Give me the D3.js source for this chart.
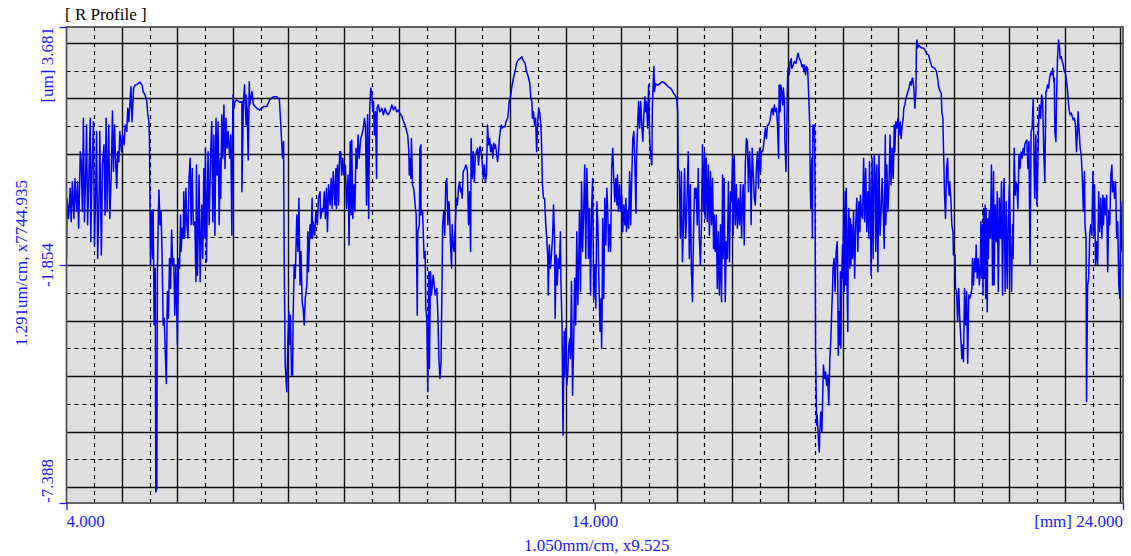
<!DOCTYPE html>
<html><head><meta charset="utf-8">
<script src="https://cdn.jsdelivr.net/npm/d3@7"></script>
<style>body{margin:0;background:#fff;} svg{display:block;}</style>
</head><body>
<svg id="chart" width="1131" height="556"></svg>
<script>
// ---------- chart values ----------
const chartTitle = "[ R Profile ]";
const xDomain = [4.0, 24.0];          // mm
const yDomain = [-7.388, 3.681];      // um
const xTickValues = [4.0, 14.0, 24.0];
const xTickLabels = ["4.000", "14.000", "[mm] 24.000"];
const yTickValues = [3.681, -1.854, -7.388];
const yTickLabels = ["[um] 3.681", "-1.854", "-7.388"];
const xAxisTitle = "1.050mm/cm, x9.525";
const yAxisTitle = "1.291um/cm, x7744.935";
const xMajorStep = 1.050;   // mm per major grid cell
const yMajorStep = 1.291;   // um per major grid cell
const yCenter = -1.854;

// profile [mm, um]
const profileSeg1 = [[4.00,-1.70],[4.01,-0.30],[4.04,-0.77],[4.07,-0.07],[4.09,-0.85],[4.11,0.08],[4.14,-0.77],[4.16,0.16],[4.19,-0.61],[4.21,0.08],[4.23,-1.00],[4.25,0.08],[4.26,0.78],[4.28,0.55],[4.30,-0.61],[4.32,1.56],[4.34,-0.85],[4.36,0.08],[4.38,1.40],[4.40,-0.92],[4.42,0.01],[4.45,1.56],[4.46,-1.31],[4.48,0.16],[4.51,1.48],[4.53,-1.39],[4.55,-0.30],[4.57,1.25],[4.59,-1.70],[4.62,-0.07],[4.63,1.25],[4.66,-1.62],[4.68,0.47],[4.71,0.94],[4.73,-0.69],[4.75,1.56],[4.77,-0.61],[4.80,1.40],[4.82,-0.77],[4.85,0.39],[4.87,1.73],[4.89,0.32],[4.91,1.40],[4.92,0.94],[4.95,-0.07],[4.97,0.78],[4.99,0.55],[5.01,1.25],[5.04,0.78],[5.06,1.17],[5.09,0.94],[5.11,1.40],[5.14,1.25],[5.16,1.79],[5.18,1.48],[5.20,1.87],[5.22,2.30],[5.24,1.48],[5.27,2.26],[5.30,2.33],[5.34,2.35],[5.39,2.40],[5.43,2.33],[5.45,2.18],[5.49,2.10],[5.52,1.95],[5.54,1.64],[5.56,1.48],[5.57,1.09],[5.59,-1.85],[5.61,-0.61],[5.63,-1.70],[5.64,-0.57],[5.66,-3.25],[5.68,-1.93],[5.69,-7.13],[5.71,-7.05],[5.72,-2.09],[5.74,-0.61],[5.75,-0.11],[5.77,-0.92],[5.79,-0.61],[5.81,-1.70],[5.83,-3.25],[5.85,-3.09],[5.87,-3.87],[5.89,-4.61],[5.91,-2.47],[5.93,-3.09],[5.95,-1.70],[5.97,-2.40],[5.99,-1.04],[6.01,-1.85],[6.03,-1.70],[6.05,-3.02],[6.07,-1.85],[6.09,-3.09],[6.10,-3.71],[6.12,-1.70],[6.14,-1.93],[6.16,-0.69],[6.17,-1.54],[6.19,-1.00],[6.21,-1.23],[6.22,-0.15],[6.24,-1.23],[6.26,-0.07],[6.28,-0.92],[6.30,-1.23],[6.32,0.16],[6.34,0.63],[6.36,-0.92],[6.38,0.39],[6.40,-0.92],[6.43,-0.85],[6.45,-2.24],[6.46,0.47],[6.48,-2.09],[6.51,0.24],[6.53,-2.24],[6.56,-0.46],[6.58,-1.70],[6.60,0.39],[6.62,-1.23],[6.63,0.86],[6.65,-1.78],[6.68,0.78],[6.70,-0.92],[6.73,0.78],[6.75,1.48],[6.77,-0.85],[6.79,1.17],[6.81,-1.16],[6.83,1.56],[6.85,0.24],[6.87,1.48],[6.89,-0.92],[6.91,0.63],[6.92,-0.30],[6.94,1.64],[6.96,0.63],[6.98,1.87],[7.00,0.39],[7.02,1.56],[7.04,0.86],[7.06,1.25],[7.09,0.63],[7.11,1.17],[7.13,-1.16],[7.15,2.10],[7.17,1.79],[7.19,1.95],[7.22,1.99],[7.28,1.93]];
const profileSeg2 = [[7.32,1.95],[7.32,-0.15],[7.35,1.95],[7.37,2.33],[7.40,1.40],[7.40,2.10],[7.42,1.79],[7.44,0.59],[7.46,2.41],[7.47,1.87],[7.51,2.18],[7.54,1.87],[7.57,1.83],[7.60,1.79],[7.66,1.75],[7.73,1.83],[7.79,1.83],[7.85,2.00],[7.92,2.06],[7.98,2.06],[8.03,2.00],[8.07,1.09],[8.09,0.63],[8.11,1.02],[8.12,-1.58],[8.14,-4.18],[8.17,-4.80],[8.19,-3.64],[8.21,-2.94],[8.23,-3.71],[8.24,-3.02],[8.26,-4.41],[8.28,-4.41],[8.29,-3.09],[8.31,-1.85],[8.33,-2.16],[8.36,-0.69],[8.38,-1.54],[8.40,-0.30],[8.42,-2.32],[8.44,-1.54],[8.46,-2.71],[8.48,-2.86],[8.50,-3.25],[8.52,-2.63],[8.55,-2.32],[8.57,-1.08],[8.58,-2.01],[8.61,-0.92],[8.63,-1.23],[8.65,-0.30],[8.66,-1.23],[8.67,-0.85],[8.70,-1.16],[8.72,-0.61],[8.75,-0.92],[8.77,-0.30],[8.80,-0.15],[8.81,-0.77],[8.84,-0.54],[8.86,-0.61],[8.88,-0.15],[8.90,-0.77],[8.92,-0.07],[8.94,-1.08],[8.96,0.01],[8.99,-0.46],[9.01,0.16],[9.03,-0.54],[9.05,0.32],[9.08,-0.46],[9.10,0.39],[9.11,-0.54],[9.13,0.47],[9.15,-0.46],[9.17,0.78],[9.19,0.78],[9.21,0.24],[9.23,0.63],[9.25,0.24],[9.28,0.47],[9.30,-0.54],[9.33,0.24],[9.35,-1.39],[9.37,1.02],[9.39,-0.69],[9.40,1.05],[9.42,-0.77],[9.44,0.01],[9.46,-0.61],[9.48,0.86],[9.50,0.39],[9.52,1.17],[9.54,0.63],[9.57,1.09],[9.59,1.17],[9.62,1.33],[9.64,1.56],[9.66,1.40],[9.68,-0.46],[9.70,1.64],[9.72,-0.77],[9.74,1.79],[9.76,2.26],[9.78,2.10],[9.80,1.71],[9.81,1.95],[9.83,1.17],[9.85,1.71],[9.87,0.16],[9.88,1.79],[9.90,1.87],[9.93,1.71],[9.97,1.79],[10.00,1.64],[10.03,1.79],[10.06,1.68],[10.09,1.64],[10.12,1.71],[10.16,1.87],[10.19,1.75],[10.22,1.83],[10.25,1.71],[10.28,1.75],[10.31,1.68],[10.35,1.60],[10.38,1.48],[10.41,1.40],[10.44,1.25],[10.46,1.17],[10.48,0.78],[10.49,0.24],[10.50,0.63],[10.52,0.16],[10.53,1.09],[10.55,0.01],[10.57,-0.07],[10.58,-0.15],[10.60,-0.46],[10.62,-0.69],[10.64,-3.02],[10.65,-1.08],[10.68,-0.92],[10.69,0.86]];
const profileSeg3 = [[10.71,0.94],[10.71,-0.69],[10.74,-0.61],[10.77,-1.70],[10.79,-1.54],[10.80,-2.86],[10.82,-3.09],[10.84,-4.80],[10.86,-2.01],[10.87,-4.26],[10.89,-2.01],[10.91,-2.55],[10.94,-2.09],[10.98,-2.55],[11.01,-2.40],[11.03,-3.02],[11.05,-4.03],[11.07,-4.49],[11.09,-4.10],[11.11,-2.16],[11.12,-0.92],[11.14,-0.61],[11.16,-1.16],[11.18,0.08],[11.20,0.16],[11.22,-0.92],[11.24,-0.38],[11.25,-0.61],[11.27,-1.39],[11.29,-1.93],[11.30,-0.92],[11.32,-1.39],[11.34,-1.54],[11.36,-0.92],[11.38,-0.30],[11.40,-0.46],[11.42,-0.07],[11.44,0.08],[11.46,-0.15],[11.47,-0.07],[11.49,-0.30],[11.51,0.32],[11.54,0.39],[11.56,0.47],[11.58,0.39],[11.59,0.32],[11.61,-0.92],[11.63,-0.15],[11.65,-1.54],[11.66,1.09],[11.68,0.16],[11.70,0.78],[11.72,0.08],[11.74,0.70],[11.76,0.78],[11.78,0.86],[11.80,0.47],[11.82,0.86],[11.83,0.90],[11.85,0.78],[11.87,0.55],[11.89,0.16],[11.91,0.47],[11.93,0.08],[11.95,0.24],[11.97,1.40],[11.99,0.94],[12.01,1.09],[12.03,0.78],[12.05,0.94],[12.07,0.63],[12.09,0.98],[12.11,0.86],[12.12,0.94],[12.14,0.78],[12.16,0.55],[12.18,0.78],[12.19,1.02],[12.21,1.25],[12.23,1.40],[12.25,1.33],[12.27,1.36],[12.30,1.36],[12.32,1.48],[12.35,1.56],[12.36,1.64],[12.38,1.95],[12.41,2.10],[12.43,2.29],[12.46,2.49],[12.49,2.64],[12.52,2.84],[12.55,2.91],[12.59,2.95],[12.62,2.99],[12.65,2.89],[12.68,2.84],[12.71,2.64],[12.74,2.53],[12.77,2.37],[12.79,2.02],[12.81,1.95],[12.82,1.56],[12.84,1.71],[12.86,1.40],[12.88,1.56],[12.90,0.78],[12.92,1.48],[12.94,1.79],[12.96,1.68],[12.98,1.40],[12.99,1.09],[13.01,0.01],[13.03,-0.30],[13.05,-0.30],[13.07,-0.85],[13.09,-1.23],[13.11,-1.62],[13.12,-2.55],[13.14,-1.39],[13.16,-1.93],[13.18,-1.62],[13.20,-1.23],[13.22,-0.46],[13.24,-1.31],[13.25,-3.09],[13.27,-1.62],[13.29,-2.32],[13.31,-1.70],[13.33,-1.93],[13.35,-1.08],[13.36,-2.24],[13.38,-3.25],[13.40,-5.81],[13.42,-3.40],[13.43,-4.41],[13.45,-3.33],[13.47,-4.65],[13.49,-4.34],[13.51,-3.71],[13.53,-3.56],[13.54,-4.03],[13.56,-2.24],[13.58,-4.88],[13.60,-3.71],[13.62,-2.16],[13.64,-3.25],[13.66,-1.08],[13.68,-2.78],[13.70,-1.54],[13.71,-0.61],[13.73,-2.47],[13.75,0.08],[13.77,-1.54],[13.79,-0.61],[13.81,0.47],[13.83,-1.70],[13.85,0.39],[13.87,-0.61],[13.88,-1.70],[13.90,-0.54],[13.92,-2.55],[13.94,-0.54],[13.96,0.16],[13.98,-2.63],[14.00,-1.85],[14.02,-2.86],[14.04,-0.38],[14.06,-0.92],[14.07,-1.70],[14.10,-3.40]];
const profileSeg4 = [[14.12,-2.63],[14.13,-3.79],[14.14,-2.86],[14.15,-0.77],[14.17,-2.63],[14.19,-0.30],[14.21,-1.39],[14.23,-0.07],[14.25,-0.77],[14.26,-1.54],[14.28,-0.92],[14.30,-1.54],[14.32,0.39],[14.34,0.86],[14.36,0.16],[14.38,-0.38],[14.40,0.16],[14.42,-0.46],[14.43,0.24],[14.45,-0.61],[14.47,0.01],[14.49,-0.61],[14.51,-0.23],[14.53,-1.08],[14.55,-0.46],[14.57,-0.92],[14.59,-0.30],[14.60,-1.08],[14.62,-0.61],[14.64,-1.00],[14.66,0.32],[14.68,-0.92],[14.70,0.16],[14.72,1.09],[14.74,1.25],[14.76,0.47],[14.78,-0.65],[14.79,0.63],[14.81,1.33],[14.83,1.95],[14.85,1.33],[14.87,1.95],[14.89,1.40],[14.91,1.02],[14.93,1.64],[14.95,2.06],[14.96,1.71],[14.98,1.95],[15.00,1.33],[15.02,2.33],[15.04,1.02],[15.06,0.70],[15.08,0.47],[15.09,1.79],[15.11,2.49],[15.12,2.76],[15.13,2.18],[15.15,2.37],[15.17,2.33],[15.20,2.33],[15.24,2.37],[15.27,2.41],[15.30,2.40],[15.33,2.37],[15.36,2.33],[15.39,2.29],[15.43,2.26],[15.46,2.22],[15.49,2.14],[15.52,2.10],[15.55,2.02],[15.57,1.71],[15.58,0.39],[15.60,0.32],[15.62,-1.23],[15.64,0.32],[15.66,-1.78],[15.68,-0.92],[15.70,0.39],[15.72,-1.23],[15.73,-1.00],[15.75,-0.15],[15.77,0.78],[15.79,-1.70],[15.81,0.01],[15.83,-2.01],[15.85,-2.71],[15.87,-1.08],[15.89,-0.07],[15.90,-0.30],[15.92,-0.07],[15.94,-0.92],[15.96,0.39],[15.98,-1.23],[16.00,-1.85],[16.02,-0.92],[16.04,0.94],[16.06,-0.61],[16.08,0.78],[16.09,-0.77],[16.11,0.63],[16.13,-0.85],[16.15,0.47],[16.17,-1.16],[16.19,0.32],[16.21,-0.92],[16.23,0.16],[16.25,-1.47],[16.26,-0.69],[16.28,-1.54],[16.30,-0.69],[16.32,-2.40],[16.34,-1.08],[16.36,-2.55],[16.38,-0.92],[16.40,-2.71],[16.42,0.24],[16.43,-1.70],[16.45,0.16],[16.47,-2.71],[16.49,-1.31],[16.51,-1.70],[16.53,0.08],[16.55,-1.78],[16.57,-0.15],[16.59,-0.38],[16.61,0.63],[16.62,-1.16],[16.64,0.70],[16.66,-0.92],[16.68,0.01],[16.70,-1.00],[16.72,-0.30],[16.74,-0.92],[16.76,0.01],[16.78,-1.23],[16.79,-0.61],[16.81,0.01],[16.83,-1.39],[16.85,0.47],[16.87,1.09],[16.89,1.02],[16.91,-0.15],[16.93,0.78],[16.95,0.16],[16.96,-0.92],[16.98,0.86],[17.00,0.32],[17.02,-0.30],[17.04,-0.46],[17.06,0.39],[17.08,0.78],[17.10,-0.07],[17.12,0.86],[17.14,0.32],[17.15,0.78],[17.17,0.78],[17.19,0.86],[17.21,1.09],[17.23,1.33],[17.25,1.09],[17.27,1.40],[17.29,1.40],[17.31,1.48],[17.32,1.52],[17.34,1.71],[17.36,1.79],[17.38,1.64],[17.40,1.87],[17.42,1.71],[17.44,1.79],[17.46,1.40],[17.48,0.63],[17.49,2.33],[17.51,1.71]];
const profileSeg5 = [[17.52,2.33],[17.54,2.18],[17.56,1.87],[17.57,2.26],[17.59,1.95],[17.60,1.02],[17.62,0.32],[17.63,0.94],[17.65,2.49],[17.66,2.72],[17.68,2.57],[17.70,2.88],[17.72,2.95],[17.73,2.72],[17.76,2.80],[17.78,2.88],[17.81,2.84],[17.84,3.03],[17.85,3.07],[17.87,2.95],[17.90,2.88],[17.92,2.76],[17.94,2.80],[17.96,2.64],[17.97,2.80],[17.99,2.57],[18.01,2.76],[18.03,2.72],[18.05,2.10],[18.07,1.40],[18.08,0.01],[18.09,-0.54],[18.11,0.63],[18.12,-1.23],[18.13,1.40],[18.14,1.02],[18.16,1.40],[18.17,0.16],[18.18,-3.79],[18.20,-5.58],[18.21,-5.34],[18.23,-5.81],[18.25,-6.20],[18.26,-5.73],[18.28,-5.27],[18.30,-5.73],[18.32,-4.65],[18.33,-4.18],[18.35,-4.49],[18.37,-4.34],[18.39,-4.65],[18.41,-4.41],[18.43,-5.11],[18.45,-4.03],[18.47,-3.56],[18.49,-2.78],[18.50,-2.47],[18.51,-1.93],[18.53,-1.70],[18.55,-2.47],[18.57,-1.54],[18.59,-1.31],[18.60,-2.16],[18.61,-3.95],[18.62,-2.94],[18.64,-3.71],[18.65,-2.01],[18.66,-3.79],[18.67,-2.47],[18.69,-1.39],[18.70,-2.16],[18.71,-0.54],[18.72,-2.47],[18.74,-0.15],[18.75,-2.32],[18.76,-0.07],[18.78,-2.63],[18.79,-3.40],[18.80,-0.92],[18.81,-0.54],[18.83,-1.93],[18.84,-0.77],[18.85,-1.85],[18.86,-0.92],[18.88,-1.70],[18.90,-0.61],[18.92,-2.16],[18.94,-0.92],[18.96,-0.30],[18.98,-1.54],[19.00,-0.38],[19.02,-1.08],[19.03,-0.23],[19.05,-0.69],[19.07,-0.77],[19.09,0.63],[19.11,-0.85],[19.13,0.39],[19.15,-1.08],[19.17,-0.15],[19.19,-1.23],[19.20,0.55],[19.22,-0.61],[19.23,-2.09],[19.25,0.63],[19.27,-1.70],[19.29,0.70],[19.31,0.16],[19.32,-1.54],[19.34,0.47],[19.36,-2.01],[19.38,0.70],[19.40,-1.16],[19.42,-0.61],[19.44,0.16],[19.46,-0.54],[19.48,-1.47],[19.50,1.17],[19.51,-0.92],[19.53,0.47],[19.55,-0.61],[19.57,0.01],[19.59,1.17],[19.61,0.01],[19.63,0.86],[19.65,0.16],[19.67,1.40],[19.68,0.78],[19.70,1.48],[19.72,1.33],[19.74,1.56],[19.76,1.17],[19.78,1.48],[19.80,1.09],[19.82,1.40],[19.84,1.56],[19.85,1.79],[19.87,1.87],[19.89,2.02],[19.91,2.10],[19.93,2.18],[19.95,2.26],[19.97,2.41],[19.99,2.33],[20.01,2.49],[20.02,2.49],[20.04,2.26],[20.06,1.79],[20.08,2.18],[20.09,3.26],[20.10,3.38],[20.11,3.19],[20.13,3.26],[20.16,3.22],[20.19,3.19],[20.22,3.19],[20.25,3.15],[20.28,3.07],[20.32,3.03],[20.35,2.88],[20.38,2.76],[20.41,2.74],[20.44,2.72],[20.47,2.64],[20.49,2.49],[20.51,2.29],[20.54,2.18],[20.56,2.14],[20.57,1.71],[20.59,1.56],[20.60,0.94],[20.61,0.47],[20.62,-0.15],[20.64,-0.77],[20.65,-0.23],[20.66,0.39],[20.68,0.63],[20.69,0.08],[20.71,-0.23],[20.72,0.08],[20.74,-0.30],[20.76,-0.92],[20.78,-1.08],[20.79,-1.62]];
const profileSeg6 = [[20.82,-1.62],[20.83,-2.40],[20.85,-2.47],[20.87,-3.17],[20.89,-2.40],[20.91,-3.09],[20.93,-3.56],[20.95,-4.03],[20.97,-3.71],[20.98,-4.10],[21.00,-2.40],[21.02,-3.25],[21.04,-2.47],[21.06,-4.14],[21.08,-2.55],[21.10,-2.63],[21.12,-2.55],[21.14,-2.40],[21.15,-1.70],[21.17,-2.32],[21.19,-1.70],[21.21,-2.01],[21.22,-1.39],[21.24,-2.16],[21.26,-1.70],[21.28,-2.32],[21.30,-1.85],[21.31,-0.85],[21.32,-2.16],[21.34,-0.92],[21.35,-2.55],[21.36,-0.54],[21.38,-2.16],[21.39,-0.46],[21.40,-2.63],[21.41,-0.54],[21.43,-2.94],[21.44,-0.77],[21.45,-1.70],[21.47,-0.61],[21.49,-1.23],[21.51,0.47],[21.53,-2.32],[21.55,0.32],[21.56,-2.32],[21.58,-0.46],[21.60,-1.31],[21.62,-0.15],[21.64,-2.47],[21.66,-0.30],[21.68,-1.23],[21.70,0.08],[21.72,-2.55],[21.74,-0.15],[21.75,0.16],[21.77,-2.47],[21.79,-0.38],[21.81,-2.40],[21.83,-0.85],[21.85,0.01],[21.87,-1.31],[21.89,-2.47],[21.91,-0.92],[21.92,-1.70],[21.94,0.86],[21.96,-0.23],[21.97,0.08],[21.99,0.01],[22.01,-0.54],[22.03,0.70],[22.05,0.39],[22.07,0.78],[22.09,0.63],[22.11,0.86],[22.13,0.70],[22.14,0.94],[22.16,1.02],[22.18,1.05],[22.20,0.39],[22.22,1.02],[22.24,-1.85],[22.26,1.25],[22.28,1.33],[22.30,2.02],[22.32,0.24],[22.33,-0.30],[22.35,1.17],[22.37,-0.46],[22.38,-0.07],[22.40,1.40],[22.42,1.87],[22.44,1.56],[22.46,2.10],[22.48,1.95],[22.50,0.78],[22.52,0.08],[22.54,2.18],[22.55,2.18],[22.57,2.33],[22.59,2.26],[22.61,2.49],[22.63,2.61],[22.65,2.57],[22.67,2.72],[22.69,2.41],[22.70,2.49],[22.71,1.25],[22.73,1.02],[22.74,1.87],[22.76,2.95],[22.78,3.38],[22.80,3.19],[22.81,2.95],[22.83,2.99],[22.85,2.88],[22.87,2.80],[22.89,2.64],[22.91,2.61],[22.93,2.41],[22.95,2.22],[22.97,1.87],[22.98,1.75],[23.00,1.64],[23.02,1.68],[23.04,1.60],[23.06,1.52],[23.08,1.56],[23.10,1.40],[23.12,0.78],[23.14,1.33],[23.15,1.71],[23.17,1.25],[23.19,0.86],[23.21,0.70],[23.23,0.16],[23.25,-0.61],[23.27,0.32],[23.28,-0.92],[23.30,-1.23],[23.31,-5.03],[23.33,-2.32],[23.35,-2.16],[23.37,-1.16],[23.39,-0.92],[23.41,-1.16],[23.43,0.32],[23.45,-1.16],[23.46,0.01],[23.48,-1.85],[23.50,-1.31],[23.52,-1.85],[23.54,-0.15],[23.56,-1.08],[23.58,-0.30],[23.60,-1.23],[23.62,-0.23],[23.63,-0.92],[23.65,-0.30],[23.67,-0.69],[23.69,-0.23],[23.71,-2.01],[23.73,-0.61],[23.75,-0.92],[23.77,0.24],[23.79,0.47],[23.80,-0.15],[23.82,0.08],[23.84,-0.30],[23.86,0.08],[23.88,-1.23],[23.90,-0.85],[23.92,-2.32],[23.94,-2.63],[23.95,-1.31],[23.96,-0.38],[23.98,-1.54],[23.99,-1.23],[24.00,-1.85]];

// ---------- drawing ----------
const profile = [].concat(profileSeg1, profileSeg2, profileSeg3, profileSeg4, profileSeg5, profileSeg6);

const W = 1131, H = 556;
const plot = {left: 66.5, right: 1123, top: 27, bottom: 503};
const svg = d3.select("#chart");
const serif = "'Liberation Serif','Times New Roman',serif";
const blue = "#1a1aff";

const x = d3.scaleLinear().domain(xDomain).range([plot.left, plot.right]);
const y = d3.scaleLinear().domain(yDomain).range([plot.bottom, plot.top]);

// background
svg.append("rect").attr("x", plot.left).attr("y", plot.top)
  .attr("width", plot.right - plot.left).attr("height", plot.bottom - plot.top)
  .attr("fill", "#dfdfdf");

const crisp = v => Math.round(v) + 0.5;

// vertical grid (half-major steps: even = solid, odd = dashed)
const xGrid = d3.range(1, 1000).map(k => ({v: xDomain[0] + k * xMajorStep / 2, solid: k % 2 === 0}))
  .filter(d => d.v < xDomain[1] - 1e-6);
// horizontal grid around centre
const yGrid = d3.range(-20, 21).map(k => ({v: yCenter + k * yMajorStep / 2, solid: k % 2 === 0}))
  .filter(d => d.v > yDomain[0] + 1e-6 && d.v < yDomain[1] - 1e-6);

const grid = svg.append("g");
grid.selectAll("line.vx").data(xGrid).join("line")
  .attr("x1", d => crisp(x(d.v))).attr("x2", d => crisp(x(d.v)))
  .attr("y1", plot.top).attr("y2", plot.bottom)
  .attr("stroke", d => d.solid ? "#111" : "#000")
  .attr("stroke-width", d => d.solid ? 1.4 : 1.2)
  .attr("stroke-dasharray", d => d.solid ? null : "4,4");
grid.selectAll("line.hy").data(yGrid).join("line")
  .attr("y1", d => crisp(y(d.v))).attr("y2", d => crisp(y(d.v)))
  .attr("x1", plot.left).attr("x2", plot.right)
  .attr("stroke", d => d.solid ? "#111" : "#000")
  .attr("stroke-width", d => d.solid ? 1.4 : 1.2)
  .attr("stroke-dasharray", d => d.solid ? null : "4,4");

// profile line
svg.append("defs").append("clipPath").attr("id", "clip").append("rect")
  .attr("x", plot.left).attr("y", plot.top)
  .attr("width", plot.right - plot.left).attr("height", plot.bottom - plot.top);
svg.append("path").datum(profile)
  .attr("clip-path", "url(#clip)")
  .attr("fill", "none").attr("stroke", "#0000ff").attr("stroke-width", 1.5)
  .attr("stroke-linejoin", "round")
  .attr("d", d3.line().x(d => x(d[0])).y(d => y(d[1])));

// frame
svg.append("rect").attr("x", plot.left).attr("y", plot.top)
  .attr("width", plot.right - plot.left).attr("height", plot.bottom - plot.top)
  .attr("fill", "none").attr("stroke", "#555").attr("stroke-width", 1.8);

// axes ticks (blue)
const yAxis = d3.axisLeft(y).tickValues(yTickValues).tickSize(7).tickFormat("");
const gy = svg.append("g").attr("transform", `translate(${plot.left},0)`).call(yAxis);
gy.select(".domain").remove();
gy.selectAll(".tick line").attr("stroke", blue).attr("stroke-width", 1.3);

const xAxis = d3.axisBottom(x).tickValues(xTickValues).tickSize(7).tickFormat("");
const gx = svg.append("g").attr("transform", `translate(0,${plot.bottom})`).call(xAxis);
gx.select(".domain").remove();
gx.selectAll(".tick line").attr("stroke", blue).attr("stroke-width", 1.3);

// texts
const fs = 17;
svg.append("text").attr("x", 65).attr("y", 20).text(chartTitle)
  .attr("font-family", serif).attr("font-size", fs).attr("fill", "#000");

const yAnchors = ["end", "middle", "start"];
yTickValues.forEach((v, i) => {
  svg.append("text")
    .attr("transform", `translate(53,${y(v)}) rotate(-90)`)
    .attr("text-anchor", yAnchors[i])
    .attr("font-family", serif).attr("font-size", fs).attr("fill", blue)
    .text(yTickLabels[i]);
});
svg.append("text")
  .attr("transform", `translate(27,${y(yCenter) - 2}) rotate(-90)`)
  .attr("text-anchor", "middle")
  .attr("font-family", serif).attr("font-size", fs).attr("fill", blue)
  .text(yAxisTitle);

const xAnchors = ["start", "middle", "end"];
xTickValues.forEach((v, i) => {
  svg.append("text")
    .attr("x", x(v)).attr("y", 527)
    .attr("text-anchor", xAnchors[i])
    .attr("font-family", serif).attr("font-size", fs).attr("fill", blue)
    .text(xTickLabels[i]);
});
svg.append("text")
  .attr("x", x(14) + 2).attr("y", 551)
  .attr("text-anchor", "middle")
  .attr("font-family", serif).attr("font-size", fs).attr("fill", blue)
  .text(xAxisTitle);
</script>
</body></html>
